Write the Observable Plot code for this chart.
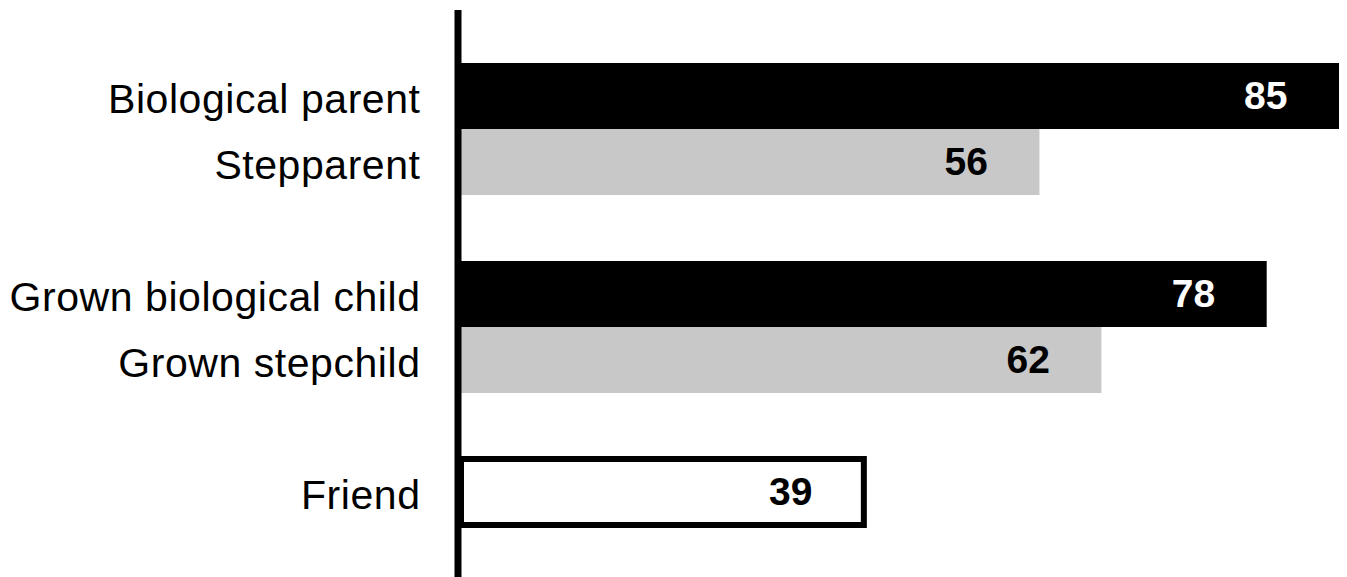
<!DOCTYPE html>
<html>
<head>
<meta charset="utf-8">
<script src="https://cdn.jsdelivr.net/npm/d3@7"></script>
<script src="https://cdn.jsdelivr.net/npm/@observablehq/plot@0.6"></script>
<style>
  html, body { margin: 0; padding: 0; background: #fff; }
  #chart svg { display: block; }
  #chart svg g[aria-label="y-axis tick label"] text { letter-spacing: 0.55px; }
</style>
</head>
<body>
<div id="chart"></div>
<script>
const categories = ["Biological parent", "Stepparent", "Grown biological child", "Grown stepchild", "Friend"];
const values = [85, 56, 78, 62, 39];
const kinds = ["biological", "step", "biological", "step", "friend"];
const yOrder = ["Biological parent", "Stepparent", "gap1", "Grown biological child", "Grown stepchild", "gap2", "Friend"];

const fillByKind = { biological: "#000000", step: "#c8c8c8", friend: "#ffffff" };
const labelByKind = { biological: "#ffffff", step: "#000000", friend: "#000000" };

const data = categories.map((c, i) => ({ category: c, value: values[i], kind: kinds[i] }));

const chart = Plot.plot({
  width: 1347,
  height: 577,
  marginLeft: 461,
  marginRight: 8,
  marginTop: 10,
  marginBottom: 0,
  style: { fontFamily: "'Liberation Sans', Arial, sans-serif", background: "#fff" },
  x: { domain: [0, 85], axis: null },
  y: { domain: yOrder, paddingInner: 0, paddingOuter: 0.78, axis: null },
  marks: [
    Plot.barX(data, {
      x: "value",
      y: "category",
      fill: d => fillByKind[d.kind],
      stroke: d => d.kind === "friend" ? "#000000" : "none",
      strokeWidth: 6
    }),
    Plot.text(data, {
      x: "value",
      y: "category",
      text: d => String(d.value),
      textAnchor: "end",
      dx: -52,
      fill: d => labelByKind[d.kind],
      fontWeight: "bold",
      fontSize: 39
    }),
    Plot.axisY(categories, {
      tickSize: 0,
      tickPadding: 41,
      fontSize: 41,
      label: null,
      dy: 3
    }),
    Plot.ruleX([0], { stroke: "#000000", strokeWidth: 7, dx: -3.5 })
  ]
});

document.getElementById("chart").appendChild(chart);
</script>
</body>
</html>
